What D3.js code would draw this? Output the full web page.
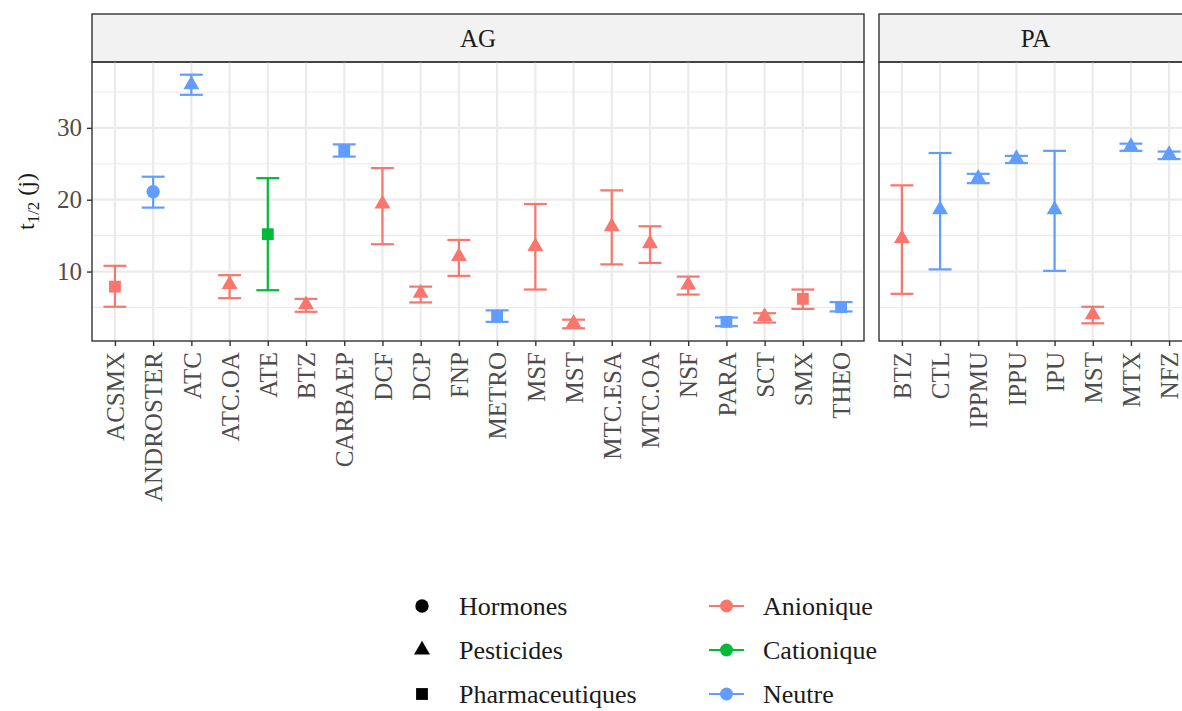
<!DOCTYPE html>
<html>
<head>
<meta charset="utf-8">
<script src="https://cdn.jsdelivr.net/npm/d3@7"></script>
<style>
  body { margin: 0; background: #fff; }
  text { font-family: "Liberation Serif", "DejaVu Serif", serif; }
</style>
</head>
<body>
<div id="chart"></div>
<script>
"use strict";
var w = 1182;
var h = 711;

// AG panel
var agNames = ["ACSMX", "ANDROSTER", "ATC", "ATC.OA", "ATE", "BTZ", "CARBAEP", "DCF", "DCP", "FNP",
               "METRO", "MSF", "MST", "MTC.ESA", "MTC.OA", "NSF", "PARA", "SCT", "SMX", "THEO"];
var agMean  = [7.9, 21.1, 36.0, 8.2, 15.2, 5.4, 26.8, 19.4, 7.0, 12.1,
               3.75, 13.5, 2.8, 16.25, 13.9, 8.15, 3.0, 3.75, 6.2, 5.05];
var agLow   = [5.1, 18.9, 34.6, 6.3, 7.4, 4.4, 26.0, 13.8, 5.7, 9.4,
               3.0, 7.5, 2.1, 11.0, 11.2, 6.8, 2.4, 2.9, 4.8, 4.45];
var agHigh  = [10.8, 23.2, 37.4, 9.5, 23.0, 6.2, 27.7, 24.4, 7.9, 14.4,
               4.6, 19.4, 3.3, 21.3, 16.3, 9.3, 3.6, 4.2, 7.5, 5.75];
var agType  = ["Pharmaceutiques", "Hormones", "Pesticides", "Pesticides", "Pharmaceutiques", "Pesticides",
               "Pharmaceutiques", "Pesticides", "Pesticides", "Pesticides", "Pharmaceutiques", "Pesticides",
               "Pesticides", "Pesticides", "Pesticides", "Pesticides", "Pharmaceutiques", "Pesticides",
               "Pharmaceutiques", "Pharmaceutiques"];
var agCharge = ["Anionique", "Neutre", "Neutre", "Anionique", "Cationique", "Anionique", "Neutre", "Anionique",
                "Anionique", "Anionique", "Neutre", "Anionique", "Anionique", "Anionique", "Anionique",
                "Anionique", "Neutre", "Anionique", "Anionique", "Neutre"];

// PA panel
var paNames = ["BTZ", "CTL", "IPPMU", "IPPU", "IPU", "MST", "MTX", "NFZ"];
var paMean  = [14.6, 18.6, 23.0, 25.75, 18.6, 4.0, 27.4, 26.3];
var paLow   = [6.9, 10.3, 22.3, 25.1, 10.1, 2.8, 26.8, 25.65];
var paHigh  = [22.0, 26.5, 23.6, 26.1, 26.8, 5.1, 27.8, 26.7];
var paType  = ["Pesticides", "Pesticides", "Pesticides", "Pesticides", "Pesticides", "Pesticides", "Pesticides", "Pesticides"];
var paCharge = ["Anionique", "Neutre", "Neutre", "Neutre", "Neutre", "Anionique", "Neutre", "Neutre"];

var typeLevels = ["Hormones", "Pesticides", "Pharmaceutiques"];
var chargeLevels = ["Anionique", "Cationique", "Neutre"];
var yTicks = [10, 20, 30];

function rows(names, mean, low, high, type, charge) {
    return names.map(function(n, i) {
        return {name: n, mean: mean[i], low: low[i], high: high[i], type: type[i], charge: charge[i]};
    });
}
var panels = [
    {label: "AG", data: rows(agNames, agMean, agLow, agHigh, agType, agCharge), x0: 92, x1: 864},
    {label: "PA", data: rows(paNames, paMean, paLow, paHigh, paType, paCharge), x0: 879, x1: 1192}
];

var color = d3.scaleOrdinal().domain(chargeLevels).range(["#F8766D", "#00BA38", "#619CFF"]);
var shape = d3.scaleOrdinal().domain(typeLevels).range([d3.symbolCircle, d3.symbolTriangle, d3.symbolSquare]);
var shapeSize = {Hormones: 140, Pesticides: 110, Pharmaceutiques: 140};

var all = panels[0].data.concat(panels[1].data);
var lo = d3.min(all, function(d) { return d.low; });
var hi = d3.max(all, function(d) { return d.high; });
var pad = (hi - lo) * 0.05;

var yTop = 62, yBottom = 341;
var y = d3.scaleLinear().domain([lo - pad, hi + pad]).range([yBottom, yTop]);

var svg = d3.select("#chart").append("svg")
    .attr("width", w).attr("height", h)
    .style("display", "block");
svg.append("rect").attr("width", w).attr("height", h).attr("fill", "#fff");

panels.forEach(function(p, pi) {
    var x = d3.scalePoint().domain(p.data.map(function(d) { return d.name; }))
        .range([p.x0, p.x1]).padding(0.6);
    var bw = x.step() * 0.6;
    var g = svg.append("g");

    // strip
    g.append("rect").attr("x", p.x0).attr("y", 14).attr("width", p.x1 - p.x0).attr("height", yTop - 14)
        .attr("fill", "#F2F2F2").attr("stroke", "#333").attr("stroke-width", 1.4);
    g.append("text").attr("x", (p.x0 + p.x1) / 2).attr("y", 47)
        .attr("text-anchor", "middle").attr("font-size", 25).attr("fill", "#1a1a1a").text(p.label);

    // grid
    var minor = [5, 15, 25, 35];
    g.selectAll(".minor").data(minor).enter().append("line")
        .attr("x1", p.x0).attr("x2", p.x1)
        .attr("y1", function(d) { return y(d); }).attr("y2", function(d) { return y(d); })
        .attr("stroke", "#EBEBEB").attr("stroke-width", 1.1);
    g.selectAll(".major").data(yTicks).enter().append("line")
        .attr("x1", p.x0).attr("x2", p.x1)
        .attr("y1", function(d) { return y(d); }).attr("y2", function(d) { return y(d); })
        .attr("stroke", "#EBEBEB").attr("stroke-width", 2.2);
    g.selectAll(".vgrid").data(p.data).enter().append("line")
        .attr("x1", function(d) { return x(d.name); }).attr("x2", function(d) { return x(d.name); })
        .attr("y1", yTop).attr("y2", yBottom)
        .attr("stroke", "#EBEBEB").attr("stroke-width", 2.2);

    // error bars
    var eb = g.selectAll(".eb").data(p.data).enter().append("g")
        .attr("stroke", function(d) { return color(d.charge); })
        .attr("stroke-width", 2.2).attr("fill", "none");
    eb.append("line")
        .attr("x1", function(d) { return x(d.name); }).attr("x2", function(d) { return x(d.name); })
        .attr("y1", function(d) { return y(d.low); }).attr("y2", function(d) { return y(d.high); });
    eb.append("line")
        .attr("x1", function(d) { return x(d.name) - bw / 2; }).attr("x2", function(d) { return x(d.name) + bw / 2; })
        .attr("y1", function(d) { return y(d.low); }).attr("y2", function(d) { return y(d.low); });
    eb.append("line")
        .attr("x1", function(d) { return x(d.name) - bw / 2; }).attr("x2", function(d) { return x(d.name) + bw / 2; })
        .attr("y1", function(d) { return y(d.high); }).attr("y2", function(d) { return y(d.high); });

    // points
    g.selectAll(".pt").data(p.data).enter().append("path")
        .attr("transform", function(d) { return "translate(" + x(d.name) + "," + y(d.mean) + ")"; })
        .attr("d", function(d) { return d3.symbol().type(shape(d.type)).size(shapeSize[d.type])(); })
        .attr("fill", function(d) { return color(d.charge); });

    // panel border
    g.append("rect").attr("x", p.x0).attr("y", yTop).attr("width", p.x1 - p.x0).attr("height", yBottom - yTop)
        .attr("fill", "none").attr("stroke", "#333").attr("stroke-width", 1.4);

    // x axis
    var xa = g.append("g").attr("transform", "translate(0," + yBottom + ")")
        .call(d3.axisBottom(x).tickSize(5).tickPadding(6));
    xa.select(".domain").remove();
    xa.selectAll(".tick line").attr("stroke", "#333").attr("stroke-width", 1.4);
    xa.selectAll(".tick text")
        .attr("font-family", "Liberation Serif, serif").attr("font-size", 25).attr("fill", "#4d4d4d")
        .attr("transform", "rotate(-90)").attr("text-anchor", "end")
        .attr("x", -11).attr("y", 0).attr("dy", "0.35em");

    if (pi === 0) {
        var ya = g.append("g").attr("transform", "translate(" + p.x0 + ",0)")
            .call(d3.axisLeft(y).tickValues(yTicks).tickSize(5).tickPadding(5));
        ya.select(".domain").remove();
        ya.selectAll(".tick line").attr("stroke", "#333").attr("stroke-width", 1.4);
        ya.selectAll(".tick text")
            .attr("font-family", "Liberation Serif, serif").attr("font-size", 25).attr("fill", "#4d4d4d");
    }
});

// y label
var yl = svg.append("text")
    .attr("transform", "translate(34," + ((yTop + yBottom) / 2) + ") rotate(-90)")
    .attr("text-anchor", "middle").attr("font-size", 24).attr("fill", "#1a1a1a");
yl.append("tspan").text("t");
yl.append("tspan").attr("font-size", 17).attr("dy", 5).text("1/2");
yl.append("tspan").attr("dy", -5).text(" (j)");

// legends
var legY = [606, 650, 694];
var lg1 = svg.append("g");
lg1.selectAll("path").data(typeLevels).enter().append("path")
    .attr("transform", function(d, i) { return "translate(422," + legY[i] + ")"; })
    .attr("d", function(d) { return d3.symbol().type(shape(d)).size(shapeSize[d])(); })
    .attr("fill", "#000");
lg1.selectAll("text").data(typeLevels).enter().append("text")
    .attr("x", 459).attr("y", function(d, i) { return legY[i]; }).attr("dy", "0.35em")
    .attr("font-size", 26).attr("fill", "#1a1a1a").text(function(d) { return d; });

var lg2 = svg.append("g");
lg2.selectAll("line").data(chargeLevels).enter().append("line")
    .attr("x1", 709).attr("x2", 744)
    .attr("y1", function(d, i) { return legY[i]; }).attr("y2", function(d, i) { return legY[i]; })
    .attr("stroke", function(d) { return color(d); }).attr("stroke-width", 2.2);
lg2.selectAll("circle").data(chargeLevels).enter().append("circle")
    .attr("cx", 726.5).attr("cy", function(d, i) { return legY[i]; }).attr("r", 6.5)
    .attr("fill", function(d) { return color(d); });
lg2.selectAll("text").data(chargeLevels).enter().append("text")
    .attr("x", 763).attr("y", function(d, i) { return legY[i]; }).attr("dy", "0.35em")
    .attr("font-size", 26).attr("fill", "#1a1a1a").text(function(d) { return d; });
</script>
</body>
</html>
